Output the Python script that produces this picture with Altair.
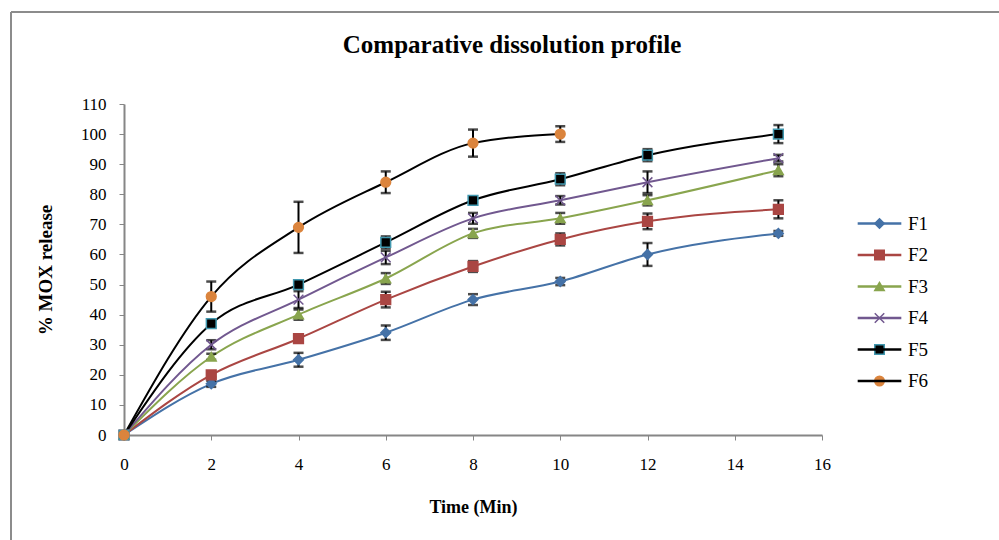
import altair as alt
import pandas as pd

series_names = ["F1", "F2", "F3", "F4", "F5", "F6"]
time_main = [0, 2, 4, 6, 8, 10, 12, 15]
time_f6 = [0, 2, 4, 6, 8, 10]

f1 = [0, 17, 25, 34, 45, 51, 60, 67]
f2 = [0, 20, 32, 45, 56, 65, 71, 75]
f3 = [0, 26, 40, 52, 67, 72, 78, 88]
f4 = [0, 30, 45, 59, 72, 78, 84, 92]
f5 = [0, 37, 50, 64, 78, 85, 93, 100]
f6 = [0, 46, 69, 84, 97, 100]

f1_err = [0, 1.0, 2.3, 2.4, 1.8, 1.2, 3.8, 0.8]
f2_err = [0, 0.8, 0.8, 2.6, 1.8, 2.0, 2.6, 3.0]
f3_err = [0, 1.0, 1.7, 1.8, 1.5, 1.8, 1.7, 2.0]
f4_err = [0, 1.5, 2.8, 2.2, 1.8, 1.4, 3.6, 1.1]
f5_err = [0, 1.0, 1.0, 2.0, 1.0, 2.0, 2.0, 3.0]
f6_err = [0, 5.0, 8.5, 3.6, 4.5, 2.6]

x_ticks = [0, 2, 4, 6, 8, 10, 12, 14, 16]
y_ticks = [0, 10, 20, 30, 40, 50, 60, 70, 80, 90, 100, 110]

line_colors = ["#4572A7", "#AA4643", "#89A54E", "#71588F", "#000000", "#000000"]
fill_colors = ["#4572A7", "#AA4643", "#89A54E", "#71588F", "#000000", "#DB843D"]
stroke_colors = ["#4572A7", "#AA4643", "#89A54E", "#71588F", "#4198AF", "#DB843D"]
shapes = ["diamond", "square", "triangle-up", "M-1,-1L1,1M-1,1L1,-1", "square", "circle"]

rows = []
for name, ts, vs, es in [
    ("F1", time_main, f1, f1_err),
    ("F2", time_main, f2, f2_err),
    ("F3", time_main, f3, f3_err),
    ("F4", time_main, f4, f4_err),
    ("F5", time_main, f5, f5_err),
    ("F6", time_f6, f6, f6_err),
]:
    for t, v, e in zip(ts, vs, es):
        rows.append(dict(series=name, series2=name, time=t, value=v, lo=v - e, hi=v + e))
df = pd.DataFrame(rows)

FONT = "Liberation Serif"

x_scale = alt.Scale(domain=[0, 16], nice=False)
y_scale = alt.Scale(domain=[0, 110], nice=False)
x_axis = alt.Axis(values=x_ticks, title="Time (Min)", grid=False,
                  labelOverlap=False, labelFlush=False,
                  tickSize=5, tickColor="#868686", domainColor="#868686", domainWidth=2,
                  labelFont=FONT, labelFontSize=17, labelColor="#000", labelPadding=16,
                  titleFont=FONT, titleFontSize=18, titleFontWeight="bold", titleColor="#000",
                  titlePadding=26)
y_axis = alt.Axis(values=y_ticks, title="% MOX release", grid=False,
                  labelOverlap=False, labelFlush=False,
                  tickSize=5, tickColor="#868686", domainColor="#868686", domainWidth=2,
                  labelFont=FONT, labelFontSize=17, labelColor="#000", labelPadding=13,
                  titleFont=FONT, titleFontSize=19, titleFontWeight="bold", titleColor="#000",
                  titlePadding=25)

def X(field):
    return alt.X(field, scale=x_scale, axis=x_axis)

def Y(field):
    return alt.Y(field, scale=y_scale, axis=y_axis)

base = alt.Chart(df)

leg_common = dict(orient="none", legendX=746, legendY=110, title=None, padding=0,
                  labelFont=FONT, labelFontSize=19, labelColor="#000", rowPadding=11.5,
                  labelOffset=19, symbolSize=90)

leg_line = alt.Legend(symbolType="M-4.6,0L4.6,0", symbolStrokeWidth=2.5, labelOpacity=0, **leg_common)
leg_pt = alt.Legend(symbolStrokeWidth=1.5, **leg_common)

lines = base.mark_line(interpolate="monotone", strokeWidth=2).encode(
    x=X("time:Q"), y=Y("value:Q"),
    color=alt.Color("series:N", scale=alt.Scale(domain=series_names, range=line_colors), legend=leg_line),
    detail="series:N",
)

err_rule = base.mark_rule(color="#000", strokeWidth=2).encode(
    x=X("time:Q"), y=Y("lo:Q"), y2="hi:Q")
err_lo = base.mark_tick(color="#000", thickness=2.5, size=10, orient="horizontal").encode(
    x=X("time:Q"), y=Y("lo:Q"))
err_hi = base.mark_tick(color="#000", thickness=2.5, size=10, orient="horizontal").encode(
    x=X("time:Q"), y=Y("hi:Q"))

points = base.mark_point(filled=True, size=95, strokeWidth=1.5, opacity=1).encode(
    x=X("time:Q"), y=Y("value:Q"),
    shape=alt.Shape("series2:N", scale=alt.Scale(domain=series_names, range=shapes), legend=leg_pt),
    fill=alt.Fill("series2:N", scale=alt.Scale(domain=series_names, range=fill_colors), legend=leg_pt),
    stroke=alt.Stroke("series2:N", scale=alt.Scale(domain=series_names, range=stroke_colors), legend=leg_pt),
)

frame_data = alt.Data(values=[{"a": 1}])
frame_left = alt.Chart(frame_data).mark_rule(color="#8c8c8c", strokeWidth=2).encode(
    x=alt.value(-113), y=alt.value(-92), y2=alt.value(440))
frame_top = alt.Chart(frame_data).mark_rule(color="#8c8c8c", strokeWidth=2).encode(
    x=alt.value(-113), x2=alt.value(880), y=alt.value(-92))

chart = alt.layer(lines, err_rule, err_lo, err_hi, points, frame_left, frame_top).properties(
    width=698, height=331,
    title=alt.TitleParams("Comparative dissolution profile", font=FONT, fontSize=25,
                          fontWeight="bold", color="#000", anchor="middle", dx=39, offset=-47),
    autosize=alt.AutoSizeParams(type="none"),
    padding={"left": 124, "top": 104, "right": 177, "bottom": 105},
).configure_view(stroke=None).resolve_scale(color="independent")

chart.save("out.html", embed_options={"renderer": "svg", "actions": False})
